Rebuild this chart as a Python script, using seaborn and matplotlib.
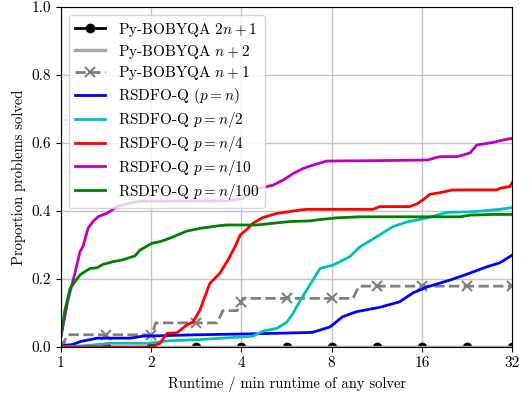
import numpy as np
import matplotlib
matplotlib.use("Agg")
import matplotlib.pyplot as plt
import seaborn as sns

# ---------------- data ----------------
labels = [r"Py-BOBYQA $2n+1$", r"Py-BOBYQA $n+2$", r"Py-BOBYQA $n+1$",
          r"RSDFO-Q $(p=n)$", r"RSDFO-Q $p=n/2$", r"RSDFO-Q $p=n/4$",
          r"RSDFO-Q $p=n/10$", r"RSDFO-Q $p=n/100$"]

bob2n1_x = [1, 32]
bob2n1_y = [0.0, 0.0]

bobn2_x = [1, 32]
bobn2_y = [0.0, 0.0]

bobn1_x = [1, 1.055, 2.01, 2.07, 3.32, 3.47, 3.87, 4.05, 9.43, 9.87, 32]
bobn1_y = [0.0, 0.036, 0.036, 0.071, 0.071, 0.107, 0.107, 0.143, 0.143, 0.179, 0.179]

pn_x = [1, 1.1, 1.16, 1.32, 1.7, 1.88, 2.84, 5.0, 6.9, 7.9, 8.7, 9.7, 11.6,
        13.5, 15.0, 16.7, 19.9, 22.6, 26.4, 29.2, 32]
pn_y = [0.003, 0.008, 0.016, 0.026, 0.026, 0.032, 0.036, 0.04, 0.043, 0.059,
        0.089, 0.104, 0.117, 0.133, 0.16, 0.177, 0.197, 0.214, 0.236, 0.248, 0.27]

pn2_x = [1, 1.2, 1.4, 1.46, 1.98, 2.26, 2.91, 3.75, 4.37, 4.72, 5.26, 5.68,
         5.95, 6.27, 7.32, 8.09, 9.21, 9.95, 11.3, 12.8, 14.3, 16.7, 19.4,
         23.7, 29.2, 32]
pn2_y = [0.0, 0.004, 0.009, 0.011, 0.011, 0.018, 0.022, 0.028, 0.032, 0.047,
         0.055, 0.074, 0.099, 0.135, 0.231, 0.241, 0.266, 0.295, 0.324, 0.354,
         0.368, 0.38, 0.396, 0.398, 0.405, 0.41]

pn4_x = [1, 2.0, 2.14, 2.26, 2.44, 2.63, 2.76, 2.91, 3.02, 3.14, 3.39, 3.61,
         3.81, 3.96, 4.17, 4.37, 4.72, 5.26, 6.27, 6.62, 11.0, 11.6, 14.6,
         15.4, 16.1, 17.0, 18.4, 20.3, 28.5, 29.2, 31.5, 32]
pn4_y = [0.0, 0.0, 0.011, 0.04, 0.042, 0.065, 0.074, 0.109, 0.148, 0.187,
         0.217, 0.256, 0.295, 0.329, 0.346, 0.364, 0.381, 0.393, 0.403, 0.405,
         0.405, 0.413, 0.413, 0.421, 0.432, 0.449, 0.454, 0.462, 0.462, 0.467,
         0.472, 0.483]

pn10_x = [1, 1.055, 1.113, 1.157, 1.184, 1.231, 1.279, 1.329, 1.435, 1.537,
          1.726, 1.864, 3.58, 4.05, 4.51, 5.10, 5.51, 5.95, 6.42, 6.93, 7.72,
          16.7, 18.4, 21.0, 23.2, 24.4, 27.7, 29.9, 32]
pn10_y = [0.03, 0.138, 0.217, 0.28, 0.295, 0.349, 0.369, 0.383, 0.395, 0.413,
          0.425, 0.429, 0.43, 0.437, 0.466, 0.476, 0.491, 0.51, 0.525, 0.535,
          0.547, 0.55, 0.56, 0.56, 0.571, 0.594, 0.602, 0.609, 0.614]

pn100_x = [1, 1.031, 1.072, 1.113, 1.157, 1.203, 1.25, 1.319, 1.381, 1.491,
           1.598, 1.766, 1.835, 2.01, 2.14, 2.31, 2.44, 2.63, 2.91, 3.32, 3.58,
           4.51, 5.10, 5.81, 6.78, 7.32, 8.34, 9.95, 21.5, 23.2, 27.7, 32]
pn100_y = [0.035, 0.109, 0.172, 0.192, 0.212, 0.222, 0.231, 0.233, 0.243,
           0.251, 0.256, 0.268, 0.285, 0.305, 0.31, 0.32, 0.329, 0.341, 0.349,
           0.356, 0.359, 0.359, 0.364, 0.369, 0.371, 0.375, 0.38, 0.383, 0.383,
           0.388, 0.39, 0.39]

xticks = [1, 2, 4, 8, 16, 32]
xtick_labels = ["1", "2", "4", "8", "16", "32"]
yticks = [0.0, 0.2, 0.4, 0.6, 0.8, 1.0]
ytick_labels = ["0.0", "0.2", "0.4", "0.6", "0.8", "1.0"]

# ---------------- style ----------------
plt.rcParams["font.family"] = ["cmr10"]
plt.rcParams["mathtext.fontset"] = "cm"
plt.rcParams["axes.unicode_minus"] = False
plt.rcParams["font.size"] = 11

fig = plt.figure(figsize=(5.29, 3.97), dpi=100)
ax = fig.add_axes([0.1153, 0.1259, 0.8526, 0.8564])

# marker positions: every half power of two
mark_x = 2.0 ** (np.arange(0, 11) / 2.0)


def draw(xs, ys, label, **kw):
    xs = np.asarray(xs, float)
    ys = np.asarray(ys, float)
    x_all = np.union1d(xs, mark_x)
    y_all = np.interp(x_all, xs, ys)
    idx = [int(np.argmin(np.abs(x_all - m))) for m in mark_x]
    if "marker" in kw:
        kw["markevery"] = idx
    sns.lineplot(x=x_all, y=y_all, ax=ax, label=label, sort=False,
                 estimator=None, **kw)


draw(bob2n1_x, bob2n1_y, labels[0], color="black", lw=2, marker="o",
     markersize=7, markeredgewidth=0, markeredgecolor="black")
draw(bobn2_x, bobn2_y, labels[1], color="#aaaaaa", lw=2.5)
draw(bobn1_x, bobn1_y, labels[2], color="gray", lw=2, linestyle="--",
     marker="x", markersize=7, markeredgewidth=1.5, markeredgecolor="gray")
draw(pn_x, pn_y, labels[3], color="blue", lw=2)
draw(pn2_x, pn2_y, labels[4], color="c", lw=2)
draw(pn4_x, pn4_y, labels[5], color="red", lw=2)
draw(pn10_x, pn10_y, labels[6], color="m", lw=2)
draw(pn100_x, pn100_y, labels[7], color="green", lw=2)

ax.set_xscale("log", base=2)
ax.set_xlim(1, 32)
ax.set_ylim(0, 1)
ax.set_xticks(xticks)
ax.set_xticklabels(xtick_labels)
ax.xaxis.set_minor_locator(matplotlib.ticker.NullLocator())
ax.set_yticks(yticks)
ax.set_yticklabels(ytick_labels)
ax.grid(True, color="#c4c4c4", lw=1.0)
ax.set_axisbelow(True)
ax.set_xlabel("Runtime / min runtime of any solver", fontsize=10.5)
ax.set_ylabel("Proportion problems solved", fontsize=10.5)
ax.legend(loc="upper left", fontsize=11, labelspacing=0.25)

fig.savefig("out.png", dpi=100)
